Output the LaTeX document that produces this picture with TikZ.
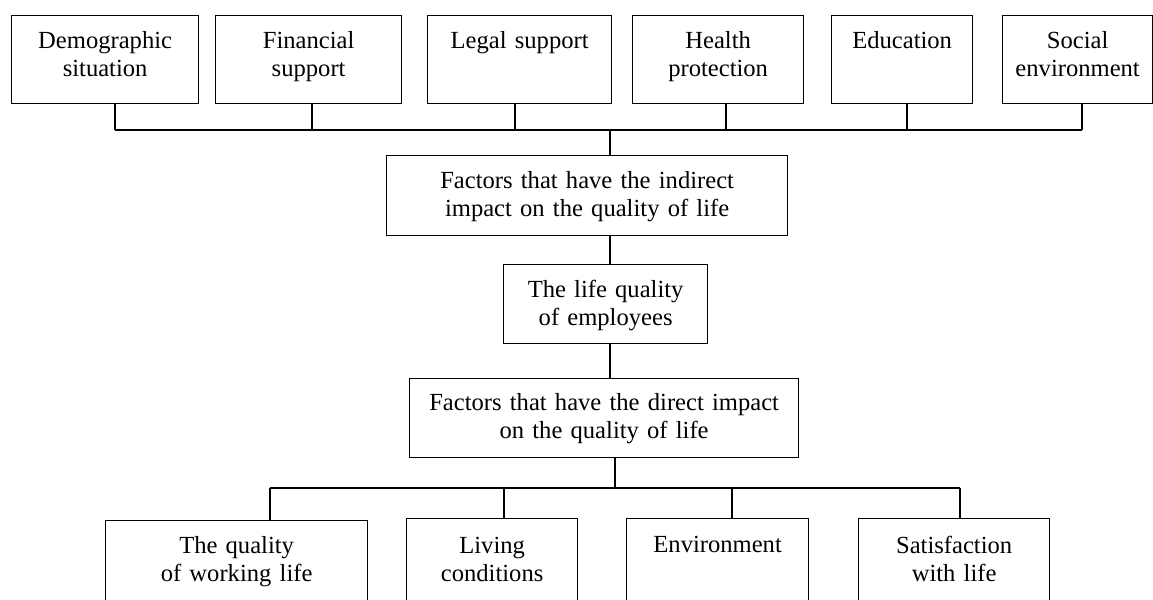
\documentclass[tikz,border=0pt]{standalone}
\usepackage{fontspec}
\setmainfont{Liberation Serif}
\usetikzlibrary{positioning, calc}

\begin{document}
\begin{tikzpicture}[x=0.02cm, y=-0.02cm]
    \tikzset{
        factor box/.style={
                draw=black, line width=0.75pt, inner sep=0pt, anchor=north west
            },
        factor text/.style={
                font=\fontsize{14}{16.2}\selectfont, text width=8cm, align=center,
                anchor=base, inner sep=0pt
            },
        link/.style={draw=black, line width=0.75pt}
    }
    \clip (0,0) rectangle (1153,599);

    % indirect factors
    \node[factor box, minimum width=3.74cm, minimum height=1.76cm] (dem) at (11,15) {};
    \node[factor box, minimum width=3.72cm, minimum height=1.76cm] (fin) at (215,15) {};
    \node[factor box, minimum width=3.68cm, minimum height=1.76cm] (leg) at (427,15) {};
    \node[factor box, minimum width=3.42cm, minimum height=1.76cm] (hea) at (632,15) {};
    \node[factor box, minimum width=2.82cm, minimum height=1.76cm] (edu) at (831,15) {};
    \node[factor box, minimum width=3.00cm, minimum height=1.76cm] (soc) at (1002,15) {};
    \node[factor text] (dem-t) at ($(dem.north)+(0,33)$) {Demographic\\situation};
    \node[factor text] (fin-t) at ($(fin.north)+(0,33)$) {Financial\\support};
    \node[factor text] (leg-t) at ($(leg.north)+(0,33)$) {Legal support};
    \node[factor text] (hea-t) at ($(hea.north)+(0,33)$) {Health\\protection};
    \node[factor text] (edu-t) at ($(edu.north)+(0,33)$) {Education};
    \node[factor text] (soc-t) at ($(soc.north)+(0,33)$) {Social\\environment};

    % middle column
    \node[factor box, minimum width=8.02cm, minimum height=1.60cm] (indirect) at (386,155) {};
    \node[factor box, minimum width=4.08cm, minimum height=1.58cm] (life) at (503,264) {};
    \node[factor box, minimum width=7.78cm, minimum height=1.58cm] (direct) at (409,378) {};
    \node[factor text] (indirect-t) at ($(indirect.north)+(0,33)$) {Factors that have the indirect\\impact on the quality of life};
    \node[factor text] (life-t) at ($(life.north)+(0,33)$) {The life quality\\of employees};
    \node[factor text] (direct-t) at ($(direct.north)+(0,32)$) {Factors that have the direct impact\\on the quality of life};

    % direct factors
    \node[factor box, minimum width=5.24cm, minimum height=2.00cm] (work) at (105,520) {};
    \node[factor box, minimum width=3.42cm, minimum height=2.04cm] (liv) at (406,518) {};
    \node[factor box, minimum width=3.64cm, minimum height=2.04cm] (env) at (626,518) {};
    \node[factor box, minimum width=3.82cm, minimum height=2.04cm] (sat) at (858,518) {};
    \node[factor text] (work-t) at ($(work.north)+(0,33)$) {The quality\\of working life};
    \node[factor text] (liv-t) at ($(liv.north)+(0,35)$) {Living\\conditions};
    \node[factor text] (env-t) at ($(env.north)+(0,34)$) {Environment};
    \node[factor text] (sat-t) at ($(sat.north)+(0,35)$) {Satisfaction\\with life};

    % top bus
    \coordinate (tb-dem) at (115,130);
    \coordinate (tb-fin) at (312,130);
    \coordinate (tb-leg) at (515,130);
    \coordinate (tb-mid) at (610,130);
    \coordinate (tb-hea) at (726,130);
    \coordinate (tb-edu) at (907,130);
    \coordinate (tb-soc) at (1082,130);
    \draw[link] (tb-dem) -- (tb-soc);
    \foreach \n in {dem, fin, leg, hea, edu, soc}
        \draw[link] (\n.south -| tb-\n) -- (tb-\n);
    \draw[link] (tb-mid) -- (indirect.north -| tb-mid);
    \draw[link] (indirect.south -| tb-mid) -- (life.north -| tb-mid);
    \draw[link] (life.south -| tb-mid) -- (direct.north -| tb-mid);

    % bottom bus
    \coordinate (bb-work) at (270,488);
    \coordinate (bb-liv) at (504,488);
    \coordinate (bb-mid) at (615,488);
    \coordinate (bb-env) at (732,488);
    \coordinate (bb-sat) at (960,488);
    \draw[link] (direct.south -| bb-mid) -- (bb-mid);
    \draw[link] (bb-work) -- (bb-sat);
    \foreach \n in {work, liv, env, sat}
        \draw[link] (bb-\n) -- (bb-\n |- \n.north);
\end{tikzpicture}
\end{document}
